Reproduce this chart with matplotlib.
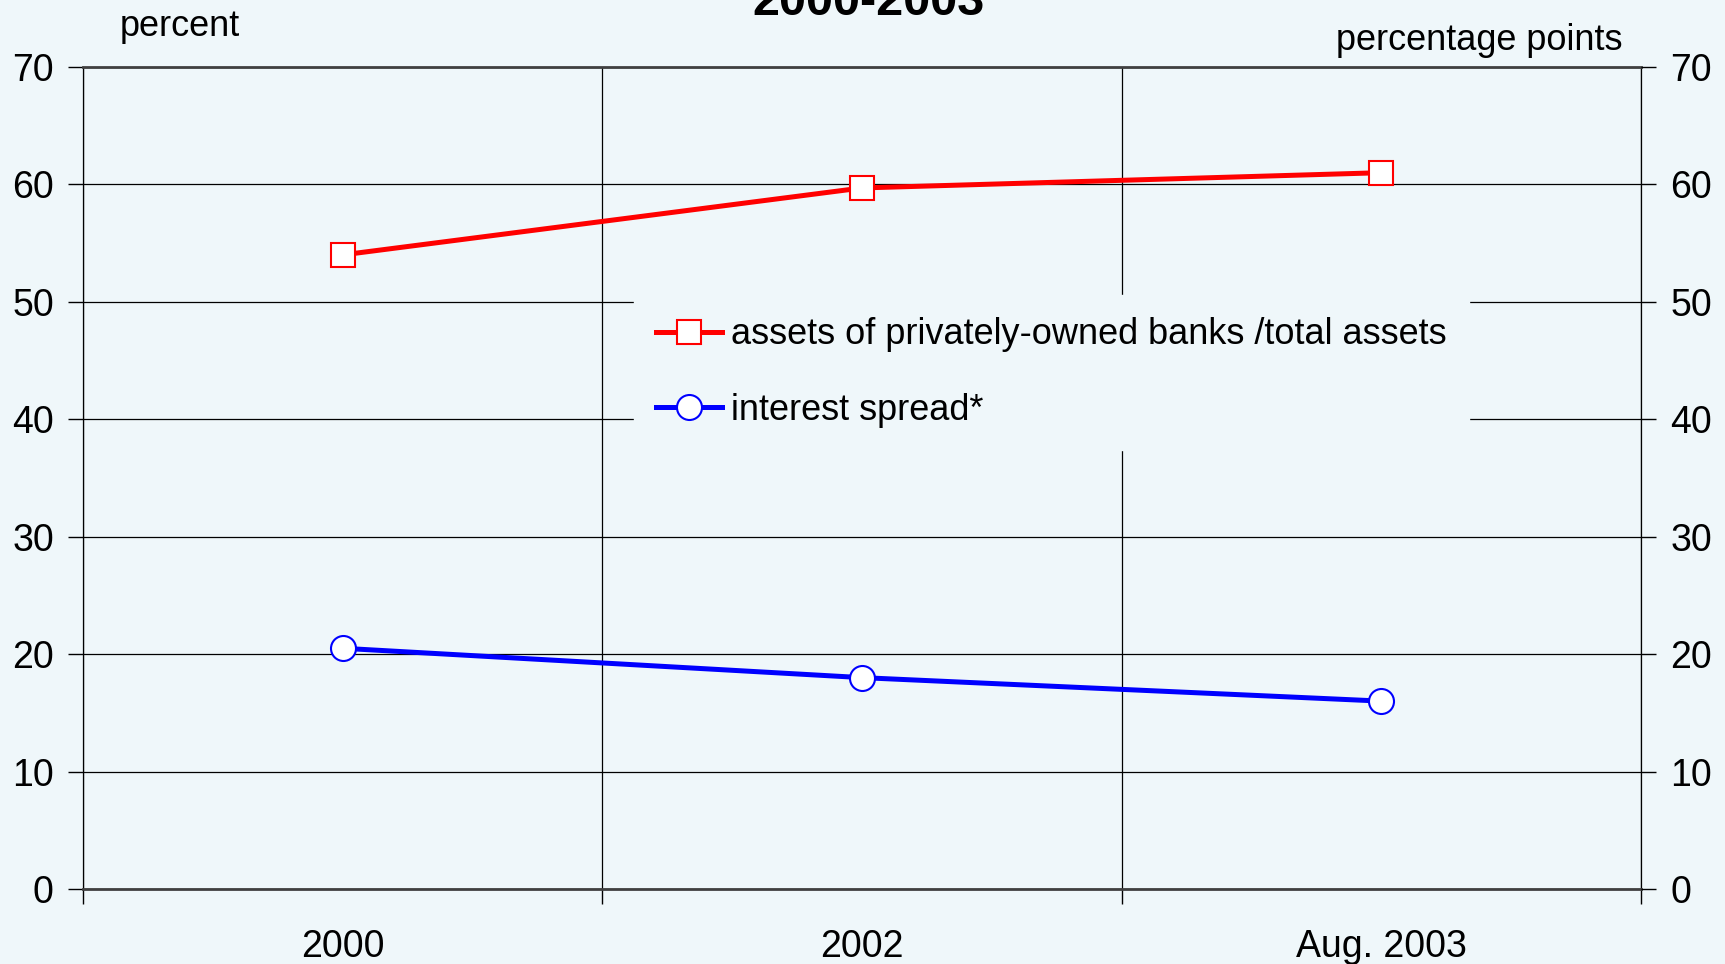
import numpy as np
import matplotlib.pyplot as plt
from matplotlib.lines import Line2D

# data
categories = ['2000', '2002', 'Aug. 2003']
private_share = [54.0, 59.7, 61.0]
interest_spread = [20.5, 18.0, 16.0]
y_ticks = [0, 10, 20, 30, 40, 50, 60, 70]

bg = '#EFF7FA'
plt.rcParams['font.family'] = ['Liberation Sans', 'DejaVu Sans']

fig = plt.figure(figsize=(17.25, 9.64), dpi=100, facecolor=bg)
ax = fig.add_axes([83 / 1725, 1 - 889 / 964, (1641 - 83) / 1725, (889 - 67) / 964])
ax.set_facecolor(bg)

x = np.arange(len(categories)) + 0.5
ax.plot(x, private_share, color='red', lw=3.6, marker='s', ms=17,
        mfc='white', mec='red', mew=1.5, zorder=5)
ax.plot(x, interest_spread, color='blue', lw=3.6, marker='o', ms=18,
        mfc='white', mec='blue', mew=1.5, zorder=5)

ax.set_xlim(0, len(categories))
ax.set_ylim(0, 70)
ax.set_yticks(y_ticks)
ax.set_xticks(np.arange(len(categories) + 1))
ax.set_xticklabels([])
ax.set_xticks(x, minor=True)
ax.set_xticklabels(categories, minor=True)
ax.tick_params(axis='x', which='major', length=11, width=1, color='black')
ax.tick_params(axis='x', which='minor', length=0, pad=29, labelsize=27)
ax.tick_params(axis='y', length=11, width=1, pad=10, labelsize=27)
ax.grid(True, which='major', color='black', lw=0.9)

for s in ['top', 'bottom']:
    ax.spines[s].set_color('#404040')
    ax.spines[s].set_linewidth(2)
for s in ['left', 'right']:
    ax.spines[s].set_color('black')
    ax.spines[s].set_linewidth(0.9)

ax2 = ax.twinx()
ax2.set_ylim(0, 70)
ax2.set_yticks(y_ticks)
ax2.tick_params(axis='y', length=11, width=1, pad=10, labelsize=27)
for s in ax2.spines.values():
    s.set_visible(False)

handles = [
    Line2D([], [], color='red', lw=3.6, marker='s', ms=17, mfc='white', mec='red', mew=1.5),
    Line2D([], [], color='blue', lw=3.6, marker='o', ms=18, mfc='white', mec='blue', mew=1.5),
]
leg = ax.legend(handles, ['assets of privately-owned banks /total assets', 'interest spread*'],
                loc='upper left', bbox_to_anchor=(0.3536, 0.7226), borderaxespad=0,
                fontsize=26, frameon=True, facecolor=bg, edgecolor=bg, framealpha=1,
                handlelength=1.83, handletextpad=0.25, labelspacing=1.12,
                borderpad=0.62, fancybox=False)
leg.set_zorder(10)

fig.text(869 / 1725, 1 - 15 / 964, '2000-2003', ha='center', va='baseline',
         fontsize=35, fontweight='bold')
fig.text(120 / 1725, 1 - 26 / 964, 'percent', ha='left', va='center', fontsize=26)
fig.text(1622 / 1725, 1 - 41 / 964, 'percentage points', ha='right', va='center', fontsize=26)

fig.savefig('out.png', dpi=100, facecolor=bg)
